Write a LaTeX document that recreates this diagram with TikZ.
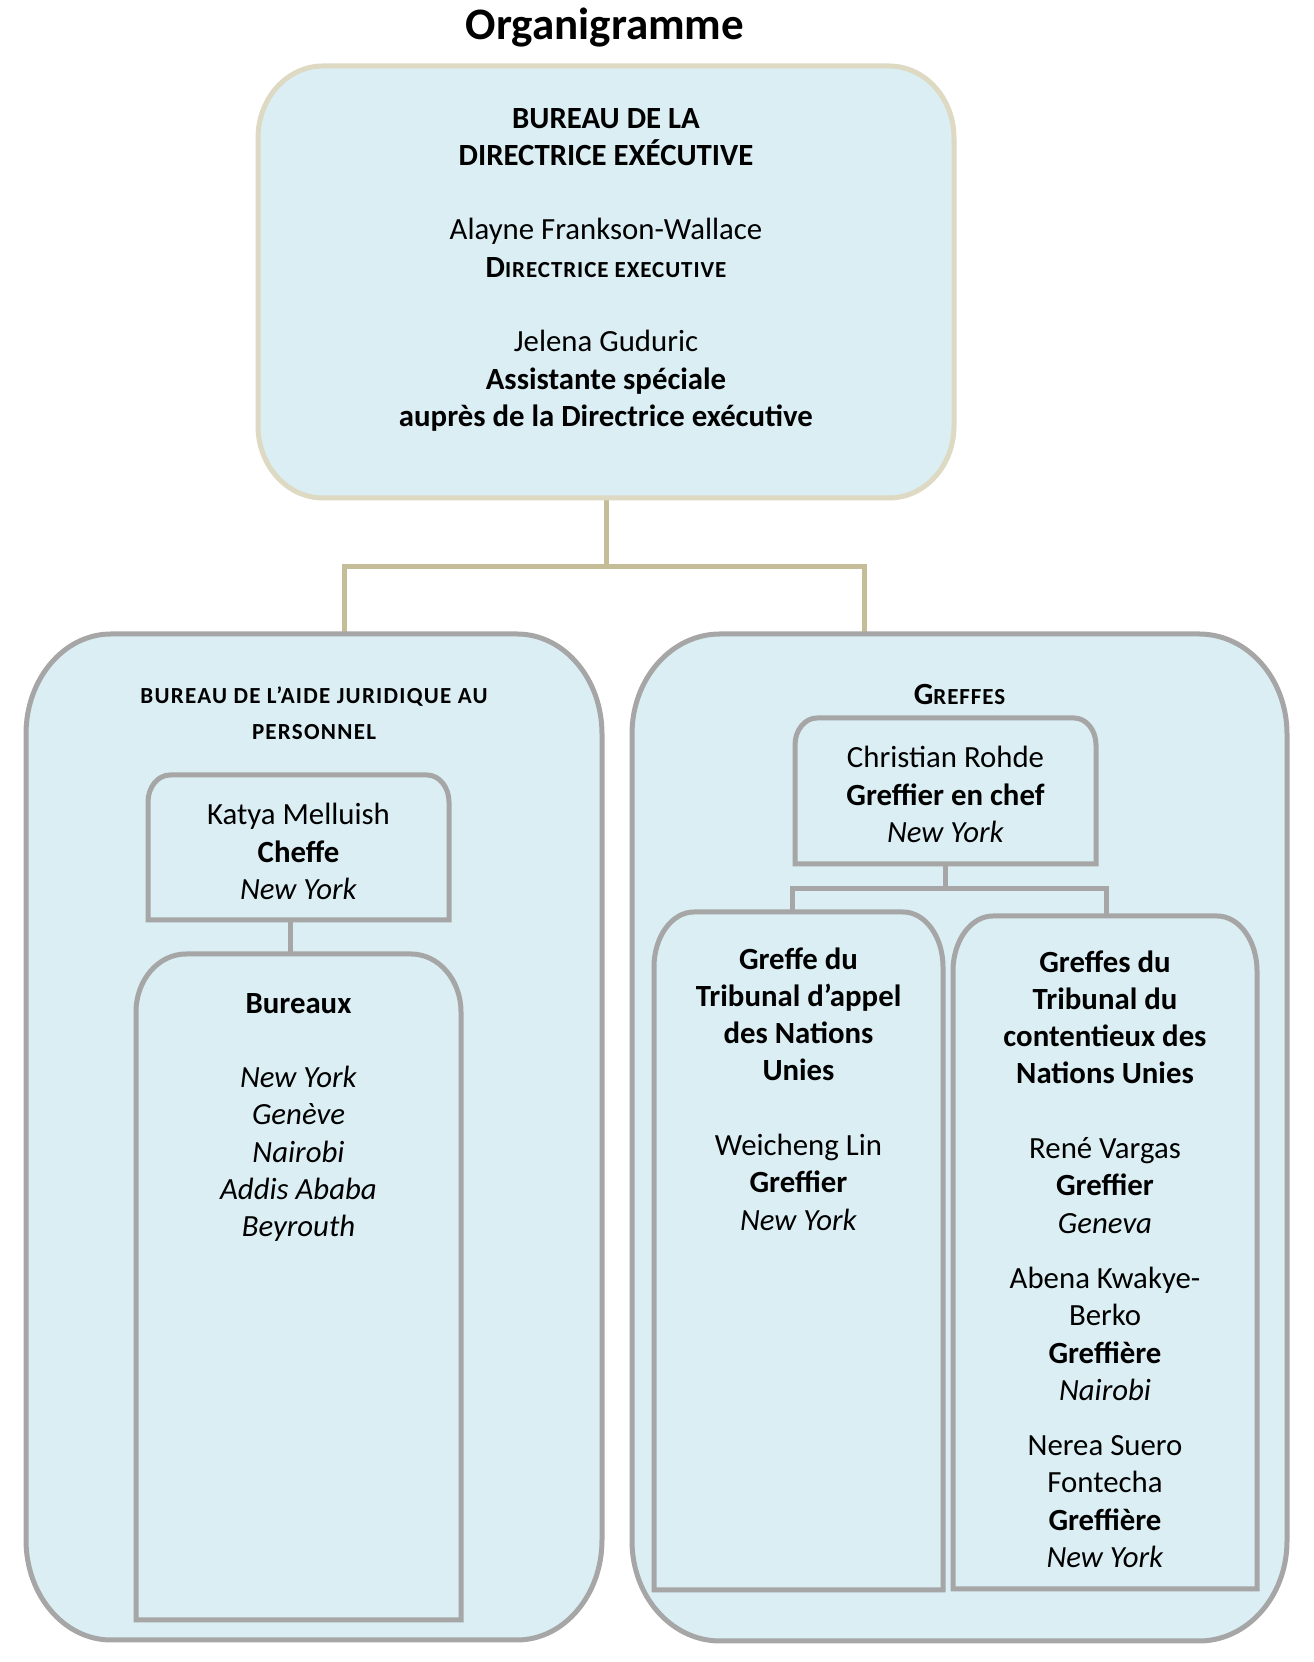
\documentclass[tikz,border=0pt]{standalone}
\usepackage{fontspec}
\setmainfont{Carlito}
\newfontfamily\scfont{Carlito}[LetterSpace=4]
\newfontfamily\scwidefont{Carlito}[LetterSpace=5.5]
\definecolor{boxblue}{HTML}{DAEEF3}
\definecolor{topborder}{HTML}{DDD9C3}
\definecolor{topline}{HTML}{C4BD97}
\definecolor{grayline}{HTML}{A6A6A6}
\newcommand\SC[1]{{\scfont\bfseries\fontsize{23}{37.3}\selectfont #1}}
\newcommand\toprbox[4]{%
  \draw[#4] (#1.south west) -- ([yshift=-#3]#1.north west)
    arc[start angle=180,end angle=90,x radius=#2,y radius=#3]
    -- ([xshift=-#2]#1.north east)
    arc[start angle=90,end angle=0,x radius=#2,y radius=#3]
    -- (#1.south east) -- cycle;}
\newcommand\allrbox[4]{%
  \draw[#4] ([yshift=#3]#1.south west) -- ([yshift=-#3]#1.north west)
    arc[start angle=180,end angle=90,x radius=#2,y radius=#3]
    -- ([xshift=-#2]#1.north east)
    arc[start angle=90,end angle=0,x radius=#2,y radius=#3]
    -- ([yshift=#3]#1.south east)
    arc[start angle=0,end angle=-90,x radius=#2,y radius=#3]
    -- ([xshift=#2]#1.south west)
    arc[start angle=270,end angle=180,x radius=#2,y radius=#3] -- cycle;}
\tikzset{
  geom/.style={draw=none,inner sep=0pt,outer sep=0pt},
  topbox/.style={draw=topborder,fill=boxblue,line width=5pt},
  graybox/.style={draw=grayline,fill=boxblue,line width=5pt},
  topcon/.style={draw=topline,line width=5pt},
  incon/.style={draw=grayline,line width=5pt},
  txt/.style={align=center,inner sep=0pt,outer sep=0pt,anchor=north,
    font=\fontsize{30.8}{37.3}\selectfont}
}
\begin{document}
\begin{tikzpicture}[x=1pt,y=1pt]
\useasboundingbox (0,0) rectangle (1314,1662);
% geometry
\node[geom,minimum width=696pt,minimum height=432pt] (top) at (606,1380) {};
\node[geom,minimum width=576pt,minimum height=1006pt] (left) at (314,525) {};
\node[geom,minimum width=655pt,minimum height=1007pt] (right) at (959.5,524.5) {};
\node[geom,minimum width=301pt,minimum height=145pt] (katya) at (298.5,814.5) {};
\node[geom,minimum width=325pt,minimum height=666pt] (bureaux) at (298.5,375) {};
\node[geom,minimum width=301pt,minimum height=146pt] (chris) at (945.5,871) {};
\node[geom,minimum width=289pt,minimum height=678pt] (tap) at (798.5,411) {};
\node[geom,minimum width=304pt,minimum height=673pt] (tcn) at (1105,409.5) {};
% title
\node[anchor=base,inner sep=0pt,font=\fontsize{45}{54}\selectfont\bfseries] (title) at (605,1622) {Organigramme};
% top connectors
\coordinate (j1) at (606,1095);
\draw[topcon] (top.south) -- (j1);
\draw[topcon] ([xshift=30pt]left.north) |- (j1) -| ([xshift=-95.5pt]right.north);
% boxes
\allrbox{top}{65pt}{72pt}{topbox}
\allrbox{left}{85pt}{100pt}{graybox}
\allrbox{right}{88pt}{100pt}{graybox}
% inner connectors
\draw[incon] ([xshift=-8.5pt]katya.south) -- ([xshift=-8.5pt]bureaux.north);
\coordinate (j2) at (945.5,773);
\draw[incon] (chris.south) -- (j2);
\draw[incon] ([xshift=-6.5pt]tap.north) |- (j2) -| ([xshift=1pt]tcn.north);
% inner boxes
\toprbox{katya}{22pt}{27pt}{graybox}
\toprbox{bureaux}{50pt}{58pt}{graybox}
\toprbox{chris}{22pt}{27pt}{graybox}
\toprbox{tap}{40pt}{55pt}{graybox}
\toprbox{tcn}{40pt}{55pt}{graybox}
% texts
\node[txt] (toptext) at (606,1560) {\strut\textbf{BUREAU DE LA}\\
  \textbf{DIRECTRICE EXÉCUTIVE}\\[37.3pt]
  Alayne Frankson-Wallace\\
  \textbf{D}\SC{IRECTRICE EXECUTIVE}\\[37.3pt]
  Jelena Guduric\\
  \textbf{Assistante spéciale}\\
  \textbf{auprès de la Directrice exécutive}};
\node[txt,font=\scwidefont\bfseries\fontsize{23}{36}\selectfont] (lefttitle) at (314,983.7)
  {\strut BUREAU DE L’AIDE JURIDIQUE AU\\ PERSONNEL};
\node[txt] (katyatext) at (298.5,863.1) {\strut Katya Melluish\\ \textbf{Cheffe}\\ \textit{New York}};
\node[txt] (bureauxtext) at (298.5,675.1) {\strut\textbf{Bureaux}\\[37.3pt]
  \textit{New York}\\ \textit{Genève}\\ \textit{Nairobi}\\ \textit{Addis Ababa}\\ \textit{Beyrouth}};
\node[anchor=base,inner sep=0pt,font=\fontsize{30.8}{37.3}\selectfont] (greffes) at (959.5,957)
  {\textbf{G}\SC{REFFES}};
\node[txt] (christext) at (945.5,920.1) {\strut Christian Rohde\\ \textbf{Greffier en chef}\\ \textit{New York}};
\node[txt] (taptext) at (798.5,719.1) {\strut\textbf{Greffe du}\\ \textbf{Tribunal d’appel}\\
  \textbf{des Nations}\\ \textbf{Unies}\\[37.3pt]
  Weicheng Lin\\ \textbf{Greffier}\\ \textit{New York}};
\node[txt] (tcntext) at (1105,716.1) {\strut\textbf{Greffes du}\\ \textbf{Tribunal du}\\
  \textbf{contentieux des}\\ \textbf{Nations Unies}\\[37.3pt]
  René Vargas\\ \textbf{Greffier}\\ \textit{Geneva}\\[18pt]
  Abena Kwakye-\\ Berko\\ \textbf{Greffière}\\ \textit{Nairobi}\\[18pt]
  Nerea Suero\\ Fontecha\\ \textbf{Greffière}\\ \textit{New York}};
\end{tikzpicture}
\end{document}
